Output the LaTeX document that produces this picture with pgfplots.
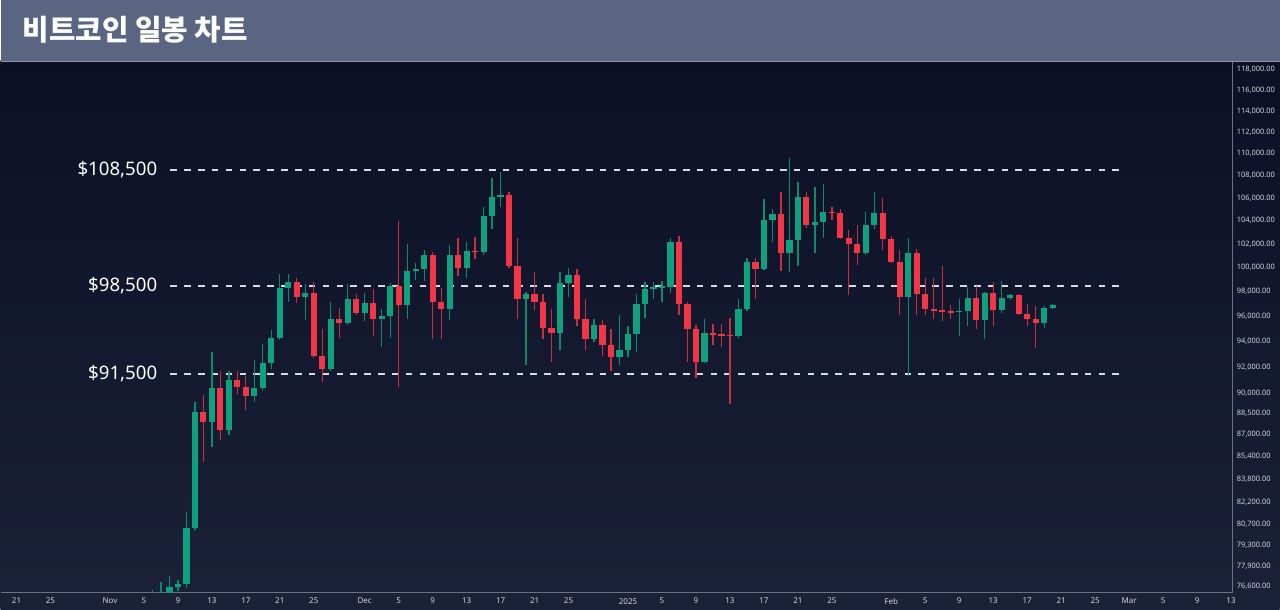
\documentclass[border=0pt]{standalone}
\usepackage{pgfplots}
\pgfplotsset{compat=1.18}
\usepackage{pgfplotstable}
\usepackage{fontspec}
\setmainfont{Noto Sans}
\newfontfamily\cjk{Noto Sans CJK KR}

\definecolor{upc}{HTML}{0FA07E}
\definecolor{dnc}{HTML}{F23645}
\definecolor{upw}{HTML}{0C8A6C}
\definecolor{dnw}{HTML}{C8303F}
\definecolor{bgtop}{HTML}{0B1025}
\definecolor{bgbot}{HTML}{1B2138}
\definecolor{titlebar}{HTML}{5A6582}
\definecolor{titleline}{HTML}{8C95AA}
\definecolor{axisc}{HTML}{6B7285}
\definecolor{lblc}{HTML}{D2D6DE}
\definecolor{dashc}{HTML}{D8DBE2}

% daily candles, d = days since Oct 21 2024
\pgfplotstableread{
d O H L C
16 73000 76400 72000 75600
17 75600 76900 74500 75900
18 75900 77300 75600 76550
19 76550 77000 76300 76750
20 76750 81500 76500 80400
21 80400 89400 80300 88600
22 88600 89900 85000 87900
23 87900 93200 86100 90400
24 90400 91700 86600 87300
25 87300 91700 86900 91000
26 91000 91700 90000 90500
27 90500 91300 88800 89800
28 89800 92600 89400 90400
29 90400 93800 90200 92300
30 92300 94900 91900 94300
31 94300 99500 94100 98300
32 98300 99500 97200 98800
33 98800 99100 97100 97600
34 97600 98600 95700 97900
35 97900 98800 92700 92900
36 92900 95000 90900 91900
37 91900 97200 91700 95800
38 95800 96700 94300 95500
39 95500 98600 95300 97400
40 97400 97800 96100 96300
41 96300 97900 95600 97100
42 97100 98200 94400 95800
43 95800 96600 93600 96000
44 96000 98700 94300 98500
45 98500 104000 90500 96900
46 96900 102000 95800 99700
47 99700 100400 99000 99900
48 99900 101500 98900 101100
49 101100 101300 94200 97200
50 97200 98300 94200 96600
51 96600 101900 95700 101100
52 101100 102500 99300 100000
53 100000 102200 99100 101400
54 101400 102600 100700 101300
55 101300 105200 101100 104400
56 104400 107800 103300 106100
57 106100 108300 105200 106300
58 106300 106500 100000 100100
59 100100 102500 95800 97400
60 97400 98000 92200 97800
61 97800 99600 96500 97200
62 97200 97800 94200 95100
63 95100 96600 92400 94700
64 94700 99600 93300 98700
65 98700 100000 97600 99400
66 99400 99900 95200 95800
67 95800 97400 93300 94200
68 94200 95800 94000 95300
69 95300 95700 92900 93700
70 93700 95000 91700 92800
71 92800 96100 92200 93300
72 93300 95200 92800 94600
73 94600 97800 93200 97000
74 97000 98800 95900 98200
75 98200 98800 97400 98400
76 98300 98900 97200 98450
77 98400 102500 97900 102200
78 102200 102700 96100 97000
79 97000 97200 92400 95000
80 95000 95300 91200 92400
81 92400 95800 92300 94700
82 94700 95400 93700 94500
83 94600 95400 93600 94400
84 94500 95900 89200 94400
85 94400 97400 94300 96600
86 96600 100800 96400 100500
87 100500 100800 97400 99900
88 99900 105900 99800 104100
89 104100 105000 102200 104600
90 104600 106500 99700 101200
91 101200 109600 99600 102300
92 102300 107400 100100 106100
93 106100 106500 103400 103600
94 103600 107000 101200 103900
95 103900 107200 102500 104800
96 104800 105200 104100 104650
97 104700 105000 102400 102500
98 102500 103200 97700 102000
99 102000 103600 100200 101200
100 101200 104800 101100 103600
101 103600 106500 103300 104700
102 104700 106000 101500 102400
103 102400 102700 100400 100500
104 100500 101500 96100 97600
105 97600 102500 91300 101200
106 101200 101600 96100 97800
107 97800 99100 96100 96600
108 96600 99100 95800 96450
109 96500 100100 95600 96350
110 96450 96900 95800 96300
111 96350 97400 94400 96450
112 96400 98400 95200 97500
113 97500 98500 95000 95700
114 95700 98000 94200 97900
115 97900 98800 95200 96500
116 96500 98900 96300 97500
117 97500 97800 97300 97700
118 97700 97800 96100 96200
119 96200 97000 95200 95800
120 95800 96800 93500 95500
121 95500 96800 95100 96700
122 96700 97000 96600 96900
}\btc

\begin{document}
\begin{tikzpicture}
% background, title bar
\shade[top color=bgtop, bottom color=bgbot] (0pt,0pt) rectangle (960pt,411.75pt);
\fill[titlebar] (0pt,411.75pt) rectangle (960pt,457.5pt);
\draw[titleline, line width=0.75pt] (0pt,411.4pt) -- (960pt,411.4pt);
\node[anchor=west, inner sep=0pt, text=white, font={\cjk\bfseries\fontsize{21.6}{25}\selectfont}] at (16.5pt,435pt) {비트코인 일봉 차트};

\begin{axis}[
  at={(0pt,12.75pt)}, anchor=south west,
  width=924.75pt, height=398.25pt, scale only axis,
  xmin=-1.882, xmax=143.18,
  ymode=log, ymin=76216, ymax=118792,
  axis x line*=bottom, axis y line*=right,
  axis line style={draw=axisc, line width=0.8pt},
  major tick length=0pt,
  xtick={0,4,11,15,19,23,27,31,35,41,45,49,53,57,61,65,72,76,80,84,88,92,96,103,107,111,115,119,123,127,131,135,139,143},
  xticklabels={21,25,Nov,5,9,13,17,21,25,Dec,5,9,13,17,21,25,2025,5,9,13,17,21,25,Feb,5,9,13,17,21,25,Mar,5,9,13},
  xticklabel style={text=lblc, font=\fontsize{6}{7}\selectfont, inner sep=0pt, anchor=north, yshift=-4.2pt},
  ytick={76600,77900,79300,80700,82200,83800,85400,87000,88500,90000,92000,94000,96000,98000,100000,102000,104000,106000,108000,110000,112000,114000,116000,118000},
  yticklabels={{76,600.00},{77,900.00},{79,300.00},{80,700.00},{82,200.00},{83,800.00},{85,400.00},{87,000.00},{88,500.00},{90,000.00},{92,000.00},{94,000.00},{96,000.00},{98,000.00},{100,000.00},{102,000.00},{104,000.00},{106,000.00},{108,000.00},{110,000.00},{112,000.00},{114,000.00},{116,000.00},{118,000.00}},
  yticklabel style={text=lblc, font=\fontsize{5.6}{7}\selectfont, inner sep=0pt, anchor=west, xshift=3pt},
  clip=true,
  candle/.style={draw=none, mark=none, forget plot,
    error bars/.cd, y dir=plus, y explicit, error mark=none},
]
% support / resistance levels
\addplot[dashc, line width=1.4pt, dash pattern=on 5pt off 5.4pt, forget plot] coordinates {(18.1,108500) (129.9,108500)};
\addplot[dashc, line width=1.4pt, dash pattern=on 5pt off 5.4pt, forget plot] coordinates {(18.1,98500) (129.9,98500)};
\addplot[dashc, line width=1.4pt, dash pattern=on 5pt off 5.4pt, forget plot] coordinates {(18.1,91500) (129.9,91500)};

% wicks
\addplot[restrict expr to domain={\thisrow{C}-\thisrow{O}}{0:1000000}, candle,
  error bar style={draw=upw, line width=1pt}]
  table[x=d, y=L, y error plus expr={\thisrow{H}-\thisrow{L}}] {\btc};
\addplot[restrict expr to domain={\thisrow{O}-\thisrow{C}}{0:1000000}, candle,
  error bar style={draw=dnw, line width=1pt}]
  table[x=d, y=L, y error plus expr={\thisrow{H}-\thisrow{L}}] {\btc};
% bodies
\addplot[restrict expr to domain={\thisrow{C}-\thisrow{O}}{0:1000000}, candle,
  error bar style={draw=upc, line width=4.7pt}]
  table[x=d, y=O, y error plus expr={\thisrow{C}-\thisrow{O}}] {\btc};
\addplot[restrict expr to domain={\thisrow{O}-\thisrow{C}}{0:1000000}, candle,
  error bar style={draw=dnc, line width=4.7pt}]
  table[x=d, y=C, y error plus expr={\thisrow{O}-\thisrow{C}}] {\btc};

\node[anchor=east, inner sep=0pt, text=white, font=\fontsize{14}{16}\selectfont] at (axis cs:16.6,108500) {\$108,500};
\node[anchor=east, inner sep=0pt, text=white, font=\fontsize{14}{16}\selectfont] at (axis cs:16.6,98500) {\$98,500};
\node[anchor=east, inner sep=0pt, text=white, font=\fontsize{14}{16}\selectfont] at (axis cs:16.6,91500) {\$91,500};
\end{axis}
\end{tikzpicture}
\end{document}
